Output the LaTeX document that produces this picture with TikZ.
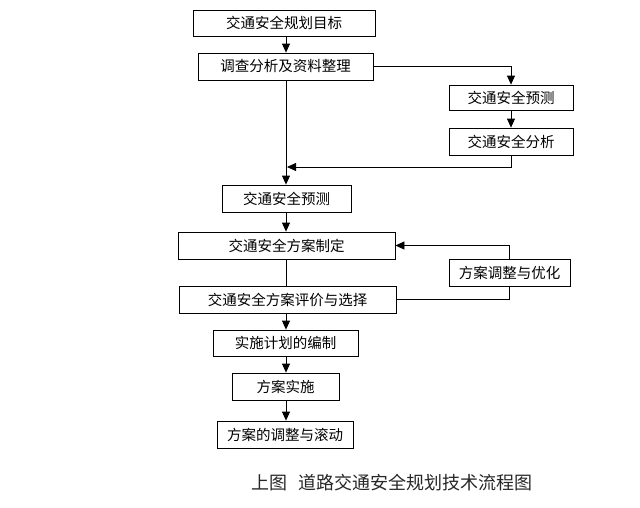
\documentclass[tikz,border=0pt]{standalone}
\usepackage{fontspec}
\newfontfamily\cjk{Noto Sans CJK SC}
\usetikzlibrary{arrows.meta}
\begin{document}
\begin{tikzpicture}[x=1pt,y=-1pt,
  box/.style={draw,line width=0.8pt,inner sep=0pt,font=\cjk\fontsize{14.5}{16}\selectfont},
  link/.style={line width=0.8pt},
  arr/.style={line width=0.8pt,-{Triangle[length=9pt,width=8pt]}}]
\useasboundingbox (0,0) rectangle (640,507);
\coordinate (axis) at (286,0);
\node[box,minimum width=182pt,minimum height=26pt] (b1) at (284,23) {交通安全规划目标};
\node[box,minimum width=175pt,minimum height=27pt] (b2) at (285.5,66.5) {调查分析及资料整理};
\node[box,minimum width=124pt,minimum height=25pt] (b3) at (511,97.5) {交通安全预测};
\node[box,minimum width=124pt,minimum height=27pt] (b4) at (511,141.5) {交通安全分析};
\node[box,minimum width=129pt,minimum height=27pt] (b5) at (286.5,198.5) {交通安全预测};
\node[box,minimum width=217pt,minimum height=27pt] (b6) at (286.5,245.5) {交通安全方案制定};
\node[box,minimum width=121pt,minimum height=27pt] (b7) at (509.5,272.5) {方案调整与优化};
\node[box,minimum width=217pt,minimum height=27pt] (b8) at (287.5,299.5) {交通安全方案评价与选择};
\node[box,minimum width=145pt,minimum height=26pt] (b9) at (285.5,343) {实施计划的编制};
\node[box,minimum width=107pt,minimum height=27pt] (b10) at (285.5,386.5) {方案实施};
\node[box,minimum width=136pt,minimum height=27pt] (b11) at (285,434.5) {方案的调整与滚动};
\node[font=\cjk\fontsize{18}{20}\selectfont,text=black!85] (cap) at (392,483) {上图\hspace{0.6em}道路交通安全规划技术流程图};
\coordinate (j) at (287,167);
\draw[arr] (b1.south -| axis) -- (b2.north -| axis);
\draw[arr] (b2.east) -| (b3.north);
\draw[arr] (b3) -- (b4);
\draw[arr] (b4.south) |- (j);
\draw[arr] (b2.south -| axis) -- (b5.north -| axis);
\draw[arr] (b5.south -| axis) -- (b6.north -| axis);
\draw[link] (b6.south -| axis) -- (b8.north -| axis);
\draw[link] (b8.east) -| (b7.south);
\draw[arr] (b7.north) |- (b6.east);
\draw[arr] (b8.south -| axis) -- (b9.north -| axis);
\draw[arr] (b9.south -| axis) -- (b10.north -| axis);
\draw[arr] (b10.south -| axis) -- (b11.north -| axis);
\end{tikzpicture}
\end{document}
